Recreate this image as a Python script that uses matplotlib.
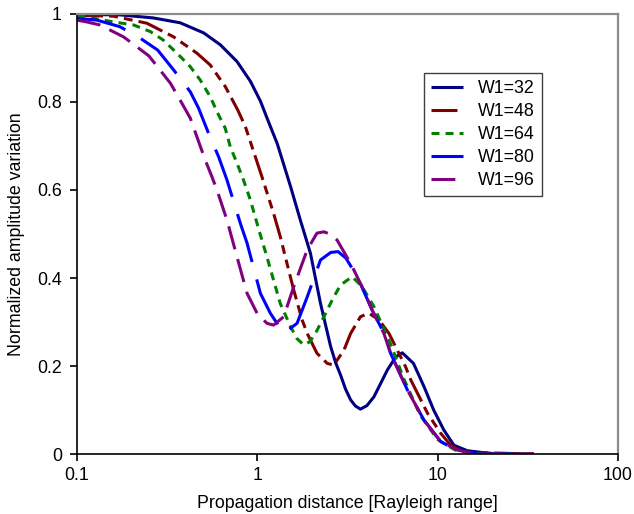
import numpy as np
import matplotlib
matplotlib.use("Agg")
import matplotlib.pyplot as plt
from matplotlib.ticker import FuncFormatter, NullLocator, FixedLocator

plt.rcParams['font.family'] = ['Liberation Sans', 'DejaVu Sans']

# W1 = 32
x32 = [0.1, 0.173, 0.265, 0.373, 0.504, 0.623, 0.771, 0.915, 1.04, 1.13, 1.29, 1.53, 1.73, 1.97,
       2.24, 2.55, 2.72, 2.89, 3.08, 3.29, 3.5, 3.73, 4.05, 4.43, 4.85, 5.26, 5.86, 6.36, 7.34,
       8.4, 9.5, 10.8, 12.3, 14.6, 18, 22, 34]
y32 = [0.999, 0.998, 0.991, 0.980, 0.957, 0.930, 0.892, 0.847, 0.802, 0.764, 0.705, 0.607, 0.532, 0.456,
       0.342, 0.244, 0.207, 0.180, 0.148, 0.123, 0.109, 0.102, 0.110, 0.130, 0.162, 0.191, 0.221, 0.230, 0.206,
       0.153, 0.100, 0.055, 0.020, 0.0075, 0.003, 0.0, 0.0]

# W1 = 48
x48 = [0.1, 0.159, 0.244, 0.343, 0.462, 0.548, 0.664, 0.778, 0.858, 0.954, 1.06, 1.23, 1.34,
       1.46, 1.59, 1.77, 1.89, 2.14, 2.44, 2.65, 3.02, 3.29, 3.73, 4.15, 4.72, 5.37, 5.97,
       6.64, 7.1, 8.8, 10.4, 11.8, 14, 34]
y48 = [0.997, 0.995, 0.979, 0.948, 0.911, 0.884, 0.835, 0.782, 0.744, 0.687, 0.630, 0.547, 0.494,
       0.433, 0.373, 0.305, 0.274, 0.229, 0.206, 0.202, 0.236, 0.274, 0.312, 0.320, 0.305, 0.274, 0.236,
       0.198, 0.168, 0.092, 0.047, 0.020, 0.004, 0.0]

# W1 = 64
x64 = [0.1, 0.159, 0.206, 0.255, 0.3, 0.358, 0.425, 0.482, 0.548, 0.597, 0.664, 0.708, 0.771,
       0.837, 0.915, 1.02, 1.13, 1.23, 1.34, 1.53, 1.66, 1.81, 1.95, 2.10, 2.34, 2.60, 2.89,
       3.36, 3.81, 4.43, 5.48, 6.50, 8.0, 10, 12.5, 16, 34]
y64 = [0.997, 0.982, 0.975, 0.960, 0.941, 0.911, 0.880, 0.850, 0.812, 0.778, 0.740, 0.698, 0.661,
       0.623, 0.577, 0.509, 0.448, 0.395, 0.342, 0.289, 0.262, 0.248, 0.255, 0.274, 0.312, 0.35, 0.384,
       0.403, 0.380, 0.335, 0.250, 0.170, 0.088, 0.033, 0.009, 0.001, 0.0]

# W1 = 80
x80 = [0.1, 0.129, 0.173, 0.224, 0.28, 0.343, 0.425, 0.472, 0.536, 0.609, 0.678, 0.805, 0.877,
       1.04, 1.18, 1.40, 1.66, 1.89, 2.24, 2.55, 2.8, 3.1, 3.58, 4.33, 5.1, 5.48, 6.8, 8.4,
       10.4, 12.9, 16, 34]
y80 = [0.99, 0.986, 0.971, 0.945, 0.918, 0.873, 0.823, 0.786, 0.729, 0.676, 0.623, 0.524, 0.479,
       0.365, 0.320, 0.274, 0.297, 0.357, 0.441, 0.458, 0.46, 0.445, 0.403, 0.327, 0.270, 0.229, 0.145, 0.077,
       0.028, 0.008, 0.0, 0.0]

# W1 = 96
x96 = [0.1, 0.113, 0.134, 0.181, 0.25, 0.329, 0.364, 0.425, 0.462, 0.514, 0.560, 0.597, 0.678,
       0.771, 0.877, 0.996, 1.13, 1.23, 1.40, 1.59, 1.89, 2.14, 2.34, 2.55, 2.77, 3.29, 3.81, 4.33,
       5.03, 5.48, 6.8, 8.4, 10.4, 12.9, 16, 34]
y96 = [0.986, 0.982, 0.975, 0.948, 0.905, 0.843, 0.812, 0.763, 0.721, 0.668, 0.630, 0.600, 0.532,
       0.448, 0.365, 0.320, 0.297, 0.293, 0.312, 0.380, 0.464, 0.502, 0.505, 0.499, 0.486, 0.433, 0.380, 0.327,
       0.274, 0.229, 0.145, 0.077, 0.028, 0.009, 0.0, 0.0]

labels = ["W1=32", "W1=48", "W1=64", "W1=80", "W1=96"]
series = [(x32, y32), (x48, y48), (x64, y64), (x80, y80), (x96, y96)]
colors = ["#000080", "#800000", "#008000", "#0000ff", "#800080"]
dashes = [None, (8.5, 2.0, 2.9, 2.0, 2.9, 2.0), (2.6, 2.0), (16.4, 5.9), (7.8, 3.3)]

fig = plt.figure(figsize=(6.34, 5.14), dpi=100)
ax = fig.add_axes([0.1215, 0.1167, 0.8533, 0.8561])

for (xs, ys), lab, c, d in zip(series, labels, colors, dashes):
    line, = ax.plot(xs, ys, color=c, lw=2.2, label=lab, solid_capstyle='butt')
    if d is not None:
        line.set_dashes(d)
        line.set_dash_capstyle('butt')

ax.set_xscale('log')
ax.set_xlim(0.1, 100)
ax.set_ylim(0, 1)
ax.xaxis.set_major_locator(FixedLocator([0.1, 1, 10, 100]))
ax.xaxis.set_minor_locator(NullLocator())
ax.xaxis.set_major_formatter(FuncFormatter(lambda v, p: "%g" % v))
ax.set_yticks([0, 0.2, 0.4, 0.6, 0.8, 1])
ax.yaxis.set_major_formatter(FuncFormatter(lambda v, p: "%g" % v))
ax.tick_params(direction='out', length=5, width=1.2, labelsize=12.8, colors='black')
ax.tick_params(axis='y', pad=6)
ax.tick_params(axis='x', pad=4)

for s in ['top', 'right']:
    ax.spines[s].set_color('#8c8c8c')
    ax.spines[s].set_linewidth(1.6)
for s in ['left', 'bottom']:
    ax.spines[s].set_color('black')
    ax.spines[s].set_linewidth(1.2)

ax.set_xlabel("Propagation distance [Rayleigh range]", fontsize=12.8, labelpad=8)
ax.set_ylabel("Normalized amplitude variation", fontsize=12.8, labelpad=9)

leg = ax.legend(loc='upper left', bbox_to_anchor=(0.641, 0.866), borderaxespad=0,
                fontsize=12.8, handlelength=1.8, labelspacing=0.33, fancybox=False,
                edgecolor='#404040', framealpha=1, borderpad=0.42, handletextpad=0.8)
leg.get_frame().set_linewidth(1.0)

fig.savefig("out.png", dpi=100)
